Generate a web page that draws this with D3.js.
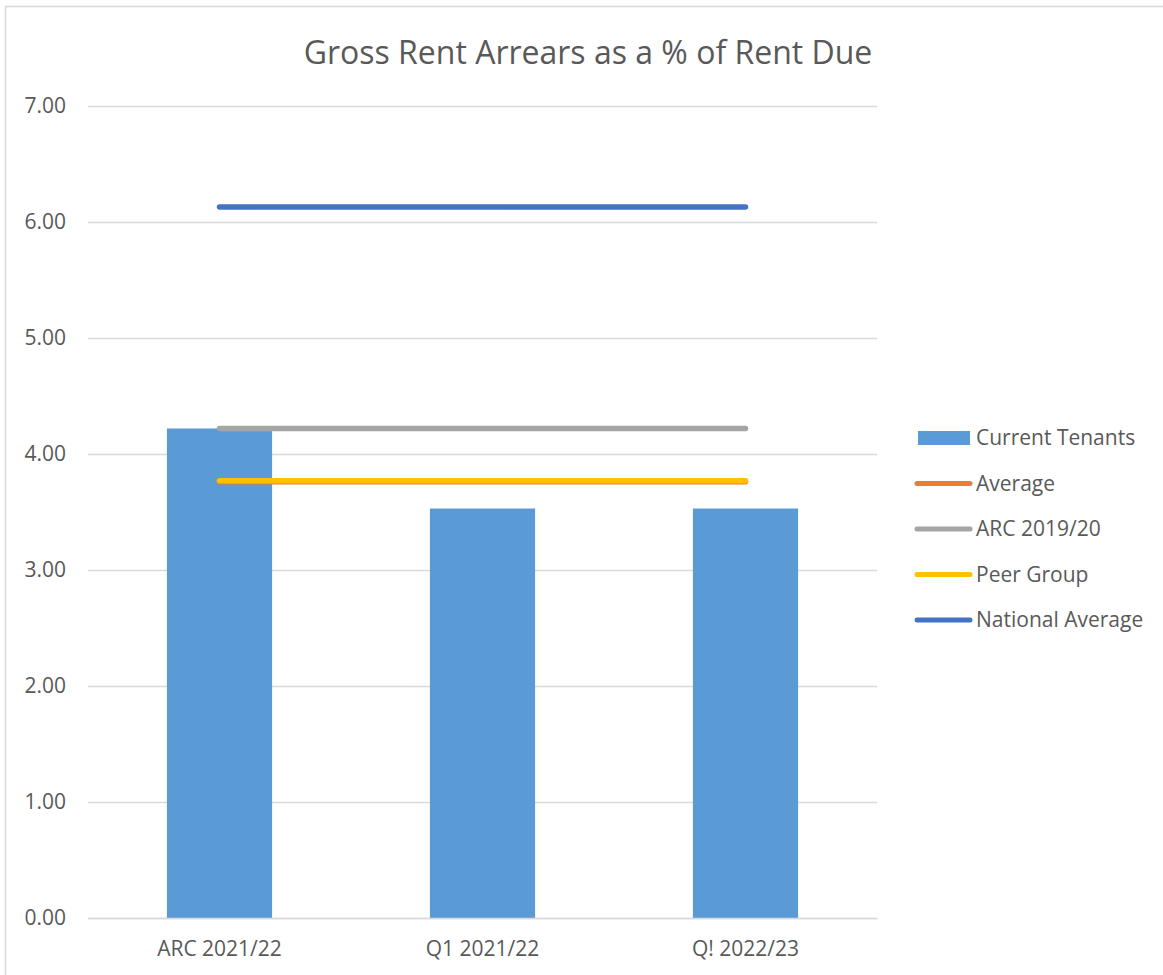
<!DOCTYPE html>
<html>
<head>
<meta charset="utf-8">
<script src="https://cdn.jsdelivr.net/npm/d3@7"></script>
<style>
  body { margin: 0; background: #fff; }
  svg { display: block; }
</style>
</head>
<body>
<svg id="chart" width="1163" height="975"></svg>
<script>
const categories = ['ARC 2021/22', 'Q1 2021/22', 'Q! 2022/23']
const currentTenants = [4.22, 3.53, 3.53]
const average = [3.76, 3.76, 3.76]
const arc201920 = [4.22, 4.22, 4.22]
const peerGroup = [3.77, 3.77, 3.77]
const nationalAverage = [6.13, 6.13, 6.13]
const yTicks = [0, 1, 2, 3, 4, 5, 6, 7]

const lineSeries = [
    { name: 'Average', values: average, color: '#ed7d31' },
    { name: 'ARC 2019/20', values: arc201920, color: '#a5a5a5' },
    { name: 'Peer Group', values: peerGroup, color: '#ffc000' },
    { name: 'National Average', values: nationalAverage, color: '#4472c4' }
]

const svg = d3.select('#chart')
const font = "'Open Sans', sans-serif"

// outer chart frame
svg.append('rect')
    .attr('x', 5.5).attr('y', 6.5)
    .attr('width', 1170).attr('height', 980)
    .attr('fill', '#fff')
    .attr('stroke', '#d9d9d9')
    .attr('stroke-width', 1.5)

const margin = { top: 106, left: 88 }
const width = 789
const height = 812

const g = svg.append('g').attr('transform', `translate(${margin.left}, ${margin.top})`)

const x = d3.scaleBand().domain(categories).range([0, width]).paddingInner(0.6).paddingOuter(0.3)
const y = d3.scaleLinear().domain([0, 7]).range([height, 0])

// gridlines + y labels
const yAxis = d3.axisLeft(y)
    .tickValues(yTicks)
    .tickSize(-width)
    .tickPadding(22)
    .tickFormat(d3.format('.2f'))

g.append('g').call(yAxis)
    .call(s => s.select('.domain').remove())
    .call(s => s.selectAll('line').attr('stroke', '#d9d9d9').attr('stroke-width', 1.5))
    .call(s => s.selectAll('text').attr('fill', '#595959').attr('font-size', '21px').attr('font-family', font))

// bars
g.selectAll('.bar')
    .data(categories)
    .join('rect')
    .attr('class', 'bar')
    .attr('x', d => x(d))
    .attr('width', x.bandwidth())
    .attr('y', (d, i) => y(currentTenants[i]))
    .attr('height', (d, i) => height - y(currentTenants[i]))
    .attr('fill', '#5b9bd5')

// x axis labels
const xAxis = d3.axisBottom(x).tickSize(0).tickPadding(23)
g.append('g')
    .attr('transform', `translate(0, ${height})`)
    .call(xAxis)
    .call(s => s.select('.domain').attr('stroke', '#d9d9d9').attr('stroke-width', 1.5))
    .call(s => s.selectAll('text').attr('fill', '#595959').attr('font-size', '21px').attr('font-family', font))

// line series
const line = d3.line()
    .x((d, i) => x(categories[i]) + x.bandwidth() / 2)
    .y(d => y(d))

lineSeries.forEach(s => {
    g.append('path')
        .datum(s.values)
        .attr('fill', 'none')
        .attr('stroke', s.color)
        .attr('stroke-width', 5.5)
        .attr('stroke-linecap', 'round')
        .attr('d', line)
})

// title
svg.append('text')
    .attr('x', 588).attr('y', 64)
    .attr('text-anchor', 'middle')
    .attr('font-family', font)
    .attr('font-size', '32px')
    .attr('fill', '#595959')
    .text('Gross Rent Arrears as a % of Rent Due')

// legend
const legend = svg.append('g').attr('transform', 'translate(915, 438)')
const legendItems = [{ name: 'Current Tenants', color: '#5b9bd5', bar: true }].concat(lineSeries)

legendItems.forEach((item, i) => {
    const row = legend.append('g').attr('transform', `translate(0, ${i * 45.5})`)
    if (item.bar) {
        row.append('rect').attr('x', 3).attr('y', -7).attr('width', 52).attr('height', 14).attr('fill', item.color)
    } else {
        row.append('line').attr('x1', 2).attr('x2', 55).attr('y1', 0).attr('y2', 0)
            .attr('stroke', item.color).attr('stroke-width', 5).attr('stroke-linecap', 'round')
    }
    row.append('text')
        .attr('x', 61).attr('y', 0).attr('dy', '0.35em')
        .attr('font-family', font).attr('font-size', '21px').attr('fill', '#595959')
        .text(item.name)
})
</script>
</body>
</html>
